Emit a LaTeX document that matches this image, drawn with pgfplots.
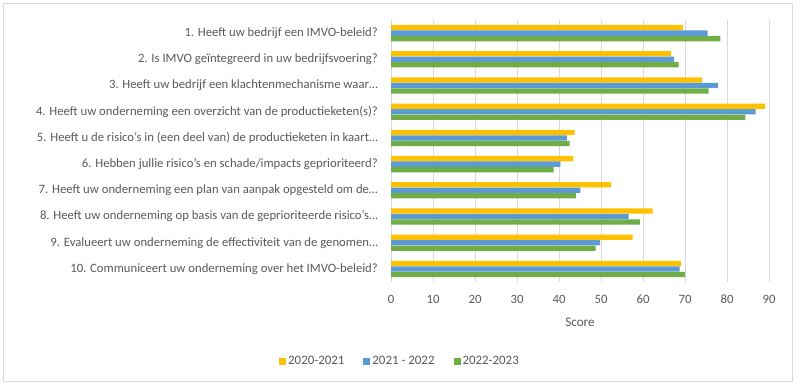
\documentclass[border=0pt]{standalone}
\usepackage{pgfplots}
\pgfplotsset{compat=1.18}
\usepackage{fontspec}
\setmainfont{Carlito}
\definecolor{cy}{HTML}{FFC000}
\definecolor{cb}{HTML}{5B9BD5}
\definecolor{cg}{HTML}{70AD47}
\definecolor{txt}{HTML}{595959}
\definecolor{gridc}{HTML}{D9D9D9}
\begin{document}
\begin{tikzpicture}[x=1pt,y=1pt]
\path[use as bounding box] (0,0) rectangle (800,389);
\draw[gridc, line width=0.8pt] (3,8) rectangle (792,386);
\begin{axis}[
  at={(391pt,107pt)}, anchor=south west,
  scale only axis, width=378pt, height=262pt,
  xbar, bar width=5.3pt,
  xmin=0, xmax=90, xtick={0,10,...,90},
  ymin=0.5, ymax=10.5, y dir=reverse,
  ytick={1,...,10},
  yticklabels={
    {1. Heeft uw bedrijf een IMVO-beleid?},
    {2. Is IMVO geïntegreerd in uw bedrijfsvoering?},
    {3. Heeft uw bedrijf een klachtenmechanisme waar…},
    {4. Heeft uw onderneming een overzicht van de productieketen(s)?},
    {5. Heeft u de risico's in (een deel van) de productieketen in kaart…},
    {6. Hebben jullie risico's en schade/impacts geprioriteerd?},
    {7. Heeft uw onderneming een plan van aanpak opgesteld om de…},
    {8. Heeft uw onderneming op basis van de geprioriteerde risico’s…},
    {9. Evalueert uw onderneming de effectiviteit van de genomen…},
    {10. Communiceert uw onderneming over het IMVO-beleid?}},
  axis line style={draw=none},
  major tick length=0pt,
  xmajorgrids, grid style={gridc, line width=1pt},
  tick label style={font=\fontsize{12.7}{15}\selectfont, text=txt},
  /pgf/number format/assume math mode=true,
  yticklabel style={anchor=east, inner sep=0pt, xshift=-13pt},
  xticklabel style={anchor=center, inner sep=0pt, yshift=-17pt},
  xlabel={Score},
  xlabel style={font=\fontsize{13.2}{15}\selectfont, text=txt, at={(axis description cs:0.5,0)}, anchor=center, yshift=-40pt},
  legend columns=3,
  legend style={draw=none, at={(axis description cs:0.0238,-0.3015)}, anchor=center, font=\fontsize{12.9}{15}\selectfont, text=txt,
    /tikz/every even column/.append style={column sep=17pt}},
  legend image code/.code={\draw[#1,draw=none] (0pt,-3.5pt) rectangle (7pt,3.5pt);},
  clip=false,
]
\addplot[fill=cy, draw=none, bar shift=5.5pt] coordinates {
(69.5,1) (66.7,2) (74.0,3) (89.1,4) (43.7,5) (43.4,6) (52.4,7) (62.3,8) (57.5,9) (69.1,10)};
\addplot[fill=cb, draw=none, bar shift=0pt] coordinates {
(75.4,1) (67.4,2) (77.9,3) (86.8,4) (41.9,5) (40.3,6) (45.1,7) (56.6,8) (49.8,9) (68.7,10)};
\addplot[fill=cg, draw=none, bar shift=-5.5pt] coordinates {
(78.4,1) (68.5,2) (75.6,3) (84.4,4) (42.5,5) (38.7,6) (44.0,7) (59.3,8) (48.7,9) (70.0,10)};
\legend{2020-2021, 2021 - 2022, 2022-2023}
\end{axis}
\end{tikzpicture}
\end{document}
